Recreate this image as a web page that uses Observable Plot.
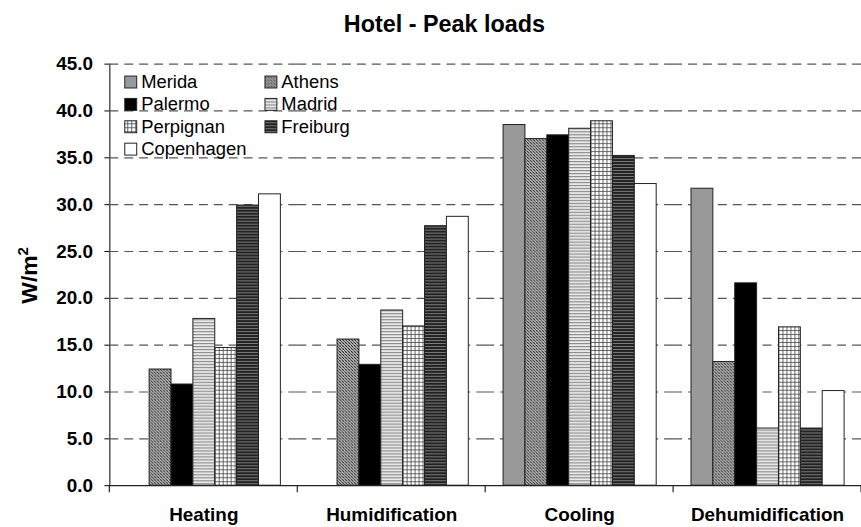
<!DOCTYPE html>
<html>
<head>
<meta charset="utf-8">
<script src="https://cdn.jsdelivr.net/npm/d3@7"></script>
<script src="https://cdn.jsdelivr.net/npm/@observablehq/plot@0.6"></script>
<style>
  html, body { margin: 0; padding: 0; background: #fff; overflow: hidden; }
  #wrap { width: 861px; height: 527px; overflow: hidden; position: relative; }
</style>
</head>
<body>
<div id="wrap"></div>
<script>
// ---- data ----
const title = "Hotel - Peak loads";
const categories = ["Heating", "Humidification", "Cooling", "Dehumidification"];
const cities = ["Merida", "Athens", "Palermo", "Madrid", "Perpignan", "Freiburg", "Copenhagen"];
const merida     = [null, null, 38.5, 31.7];
const athens     = [12.4, 15.6, 37.0, 13.2];
const palermo    = [10.8, 12.9, 37.4, 21.6];
const madrid     = [17.8, 18.7, 38.1, 6.1];
const perpignan  = [14.7, 17.0, 38.9, 16.9];
const freiburg   = [29.9, 27.7, 35.2, 6.1];
const copenhagen = [31.1, 28.7, 32.2, 10.1];
const yTicks = [0, 5, 10, 15, 20, 25, 30, 35, 40, 45];

// ---- styles ----
const fills = ["#999999", "url(#p-athens)", "#000000", "url(#p-madrid)", "url(#p-perpignan)", "url(#p-freiburg)", "#ffffff"];
const FONT = "'Liberation Sans', Arial, Helvetica, sans-serif";

const series = [merida, athens, palermo, madrid, perpignan, freiburg, copenhagen];
const data = [];
cities.forEach((c, i) => categories.forEach((cat, j) => {
  const v = series[i][j];
  if (v != null) data.push({category: cat, city: c, value: v});
}));

const plot = Plot.plot({
  width: 866,
  height: 527,
  marginLeft: 110,
  marginRight: 0,
  marginTop: 64,
  marginBottom: 39,
  style: {fontFamily: FONT, fontSize: "19px", fontWeight: "bold", color: "#000", background: "#fff", overflow: "visible"},
  fx: {domain: categories, padding: 0, axis: "bottom", label: null, tickSize: 0, tickPadding: 22},
  x: {domain: cities, axis: null, paddingInner: 0, paddingOuter: 0.768},
  y: {domain: [0, 45], ticks: yTicks, tickFormat: d => d.toFixed(1), tickSize: 5, tickPadding: 12, label: null, line: true},
  color: {domain: cities, range: fills},
  marks: [
    Plot.gridY(yTicks.slice(1), {stroke: "#555", strokeOpacity: 1, strokeWidth: 1.2, strokeDasharray: "9,6"}),
    Plot.barY(data, {fx: "category", x: "city", y: "value", fill: "city", stroke: "#222", strokeWidth: 1}),
    Plot.ruleY([0], {stroke: "#222", strokeWidth: 1.2})
  ]
});

document.getElementById("wrap").appendChild(plot);

const svg = d3.select(plot);
const defs = svg.insert("defs", ":first-child");

// Athens: fine diagonal hatch
let p = defs.append("pattern").attr("id", "p-athens").attr("patternUnits", "userSpaceOnUse").attr("width", 3).attr("height", 3);
p.append("rect").attr("width", 3).attr("height", 3).attr("fill", "#fff");
p.append("path").attr("d", "M-1,-1L4,4M-1,2L1,4M2,-1L4,1").attr("stroke", "#1a1a1a").attr("stroke-width", 1.2);
p.append("path").attr("d", "M-1,4L4,-1").attr("stroke", "#888").attr("stroke-width", 0.5);
// Madrid: light horizontal lines
p = defs.append("pattern").attr("id", "p-madrid").attr("patternUnits", "userSpaceOnUse").attr("width", 3).attr("height", 3);
p.append("rect").attr("width", 3).attr("height", 3).attr("fill", "#ececec");
p.append("rect").attr("width", 3).attr("height", 1.2).attr("fill", "#8c8c8c");
// Perpignan: grid
p = defs.append("pattern").attr("id", "p-perpignan").attr("patternUnits", "userSpaceOnUse").attr("width", 4).attr("height", 4);
p.append("rect").attr("width", 4).attr("height", 4).attr("fill", "#fff");
p.append("path").attr("d", "M0,0.5H4M0.5,0V4").attr("stroke", "#555").attr("stroke-width", 0.9);
// Freiburg: dark horizontal stripes
p = defs.append("pattern").attr("id", "p-freiburg").attr("patternUnits", "userSpaceOnUse").attr("width", 3).attr("height", 3);
p.append("rect").attr("width", 3).attr("height", 3).attr("fill", "#222");
p.append("rect").attr("width", 3).attr("height", 1).attr("fill", "#7a7a7a");

const fx = plot.scale("fx");
const y = plot.scale("y");
const y0 = y.apply(0);

// category separator ticks
const bounds = categories.map(c => fx.apply(c)).concat([fx.apply(categories[categories.length - 1]) + fx.bandwidth]);
svg.append("g").selectAll("line").data(bounds).join("line")
  .attr("x1", d => d).attr("x2", d => d).attr("y1", y0).attr("y2", y0 + 7)
  .attr("stroke", "#222").attr("stroke-width", 1.2);

// title
svg.append("text").attr("x", 447).attr("y", 32).attr("text-anchor", "middle")
  .attr("font-size", 23.5).attr("font-weight", "bold").attr("fill", "#000").text(title);

// y label
const yl = svg.append("text").attr("transform", "translate(37,277) rotate(-90)").attr("text-anchor", "middle")
  .attr("font-size", 23).attr("font-weight", "bold").attr("fill", "#000");
yl.append("tspan").text("W/m");
yl.append("tspan").attr("dy", -9).attr("font-size", 15).text("2");

// legend
const lg = svg.append("g").attr("font-weight", "normal").attr("font-size", 18.5).attr("text-anchor", "start");
cities.forEach((c, i) => {
  const col = i % 2, row = Math.floor(i / 2);
  const sx = 125 + col * 141, sy = 76 + row * 22.5;
  lg.append("rect").attr("x", sx + 0.5).attr("y", sy + 0.5).attr("width", 12).attr("height", 12)
    .attr("fill", fills[i]).attr("stroke", "#222").attr("stroke-width", 1);
  lg.append("text").attr("x", sx + 17).attr("y", sy + 12.5).attr("fill", "#000").attr("text-anchor", "start").text(c);
});
</script>
</body>
</html>
